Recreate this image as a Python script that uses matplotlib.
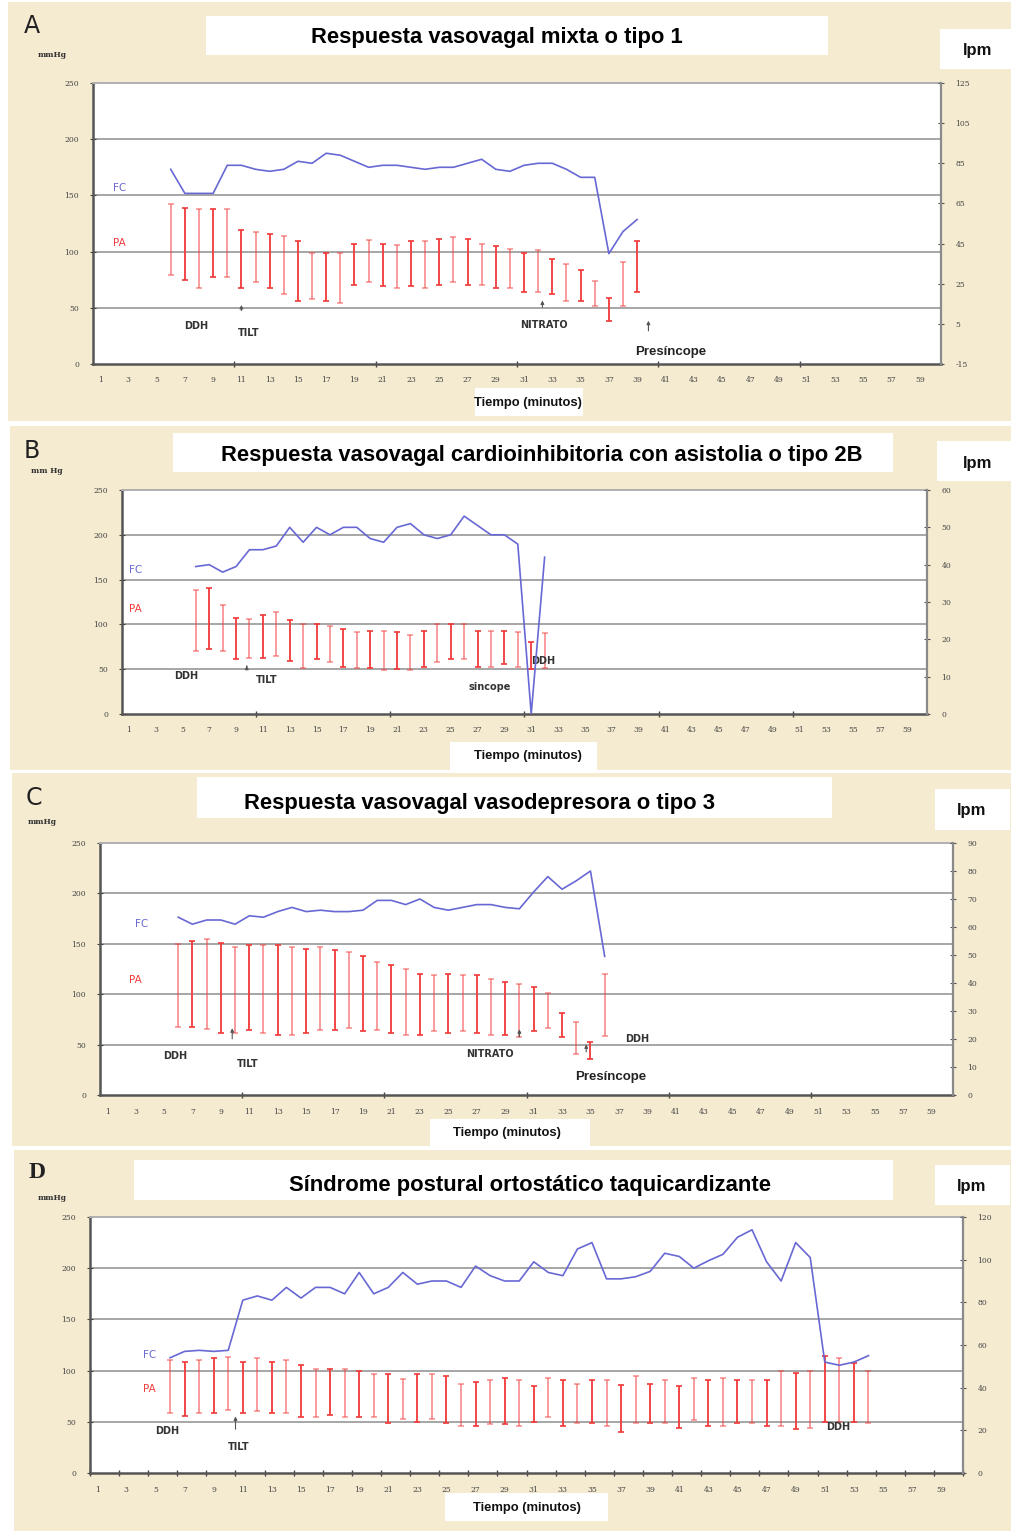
"""
Four tilt-test response panels (FC line + PA systolic/diastolic bars).
"""
import matplotlib
matplotlib.use("Agg")
import matplotlib.pyplot as plt
from matplotlib import font_manager
from matplotlib.patches import Rectangle

W, H = 1012, 1531

installed = {f.name for f in font_manager.fontManager.ttflist}
NARROW = "Liberation Sans Narrow" if "Liberation Sans Narrow" in installed else "Liberation Sans"

x_labels = list(range(1, 60, 2))
left_ticks = [0, 50, 100, 150, 200, 250]

# ---- Panel A: mixed vasovagal response ----
a_min = list(range(6, 40))
a_fc = [82, 70, 70, 70, 84, 84, 82, 81, 82, 86, 85, 90, 89, 86, 83, 84, 84, 83, 82, 83,
        83, 85, 87, 82, 81, 84, 85, 85, 82, 78, 78, 40, 51, 57]
a_sys = [142, 139, 138, 138, 138, 119, 117, 116, 114, 109, 99, 99, 99, 107, 110, 107, 106,
         109, 109, 111, 113, 111, 107, 105, 102, 99, 101, 93, 89, 84, 74, 59, 91, 109]
a_dia = [79, 75, 68, 77, 77, 68, 73, 68, 62, 56, 58, 56, 54, 70, 73, 69, 68, 69, 68, 70,
         73, 70, 70, 68, 68, 64, 64, 62, 56, 56, 52, 38, 52, 64]
a_rticks = [-15, 5, 25, 45, 65, 85, 105, 125]

# ---- Panel B: cardioinhibitory with asystole ----
b_min = list(range(6, 33))
b_fc = [39.5, 40, 38, 39.5, 44, 44, 45, 50, 46, 50, 48, 50, 50, 47, 46, 50, 51, 48, 47, 48,
        53, 50.5, 48, 48, 45.5, 0, 42]
b_sys = [138, 141, 122, 107, 106, 111, 114, 105, 100, 100, 98, 95, 91, 93, 93, 91, 88, 93,
         100, 100, 100, 93, 93, 93, 91, 80, 90]
b_dia = [70, 73, 70, 61, 63, 63, 65, 59, 51, 61, 58, 53, 51, 51, 49, 50, 49, 53, 58, 61, 61,
         53, 53, 56, 53, 50, 51]
b_rticks = [0, 10, 20, 30, 40, 50, 60]

# ---- Panel C: vasodepressor ----
c_min = list(range(6, 37))
c_fc = [63.5, 61, 62.5, 62.5, 61, 64, 63.5, 65.5, 67, 65.5, 66, 65.5, 65.5, 66, 69.5, 69.5,
        68, 70, 67, 66, 67, 68, 68, 67, 66.5, 72.5, 78, 73.5, 76.5, 80, 49.5]
c_sys = [150, 153, 155, 151, 147, 149, 149, 149, 147, 145, 147, 144, 142, 138, 132, 129, 125,
         120, 119, 120, 119, 119, 115, 112, 110, 107, 101, 81, 72, 53, 120]
c_dia = [67, 67, 65, 62, 62, 64, 62, 60, 60, 62, 64, 64, 66, 63, 64, 62, 60, 60, 63, 62, 63,
         62, 60, 60, 58, 63, 66, 58, 41, 36, 59]
c_rticks = [0, 10, 20, 30, 40, 50, 60, 70, 80, 90]

# ---- Panel D: POTS ----
d_min = list(range(6, 55))
d_fc = [54, 57, 57.5, 57, 57.5, 81, 83, 81, 87, 82, 87, 87, 84, 94, 84, 87, 94, 88.5, 90, 90,
        87, 97, 92.5, 90, 90, 99, 94, 92.5, 105, 108, 91, 91, 92, 94.5, 103, 101.5, 96, 99.5,
        102.5, 110.5, 114, 99, 90, 108, 101, 52, 50.5, 52, 55]
d_sys = [110, 108, 110, 112, 113, 108, 112, 108, 110, 105, 102, 102, 102, 100, 97, 97, 92, 97,
         97, 95, 87, 89, 91, 93, 91, 85, 93, 91, 87, 91, 91, 86, 95, 87, 91, 85, 93, 91, 93,
         91, 91, 91, 100, 98, 100, 114, 112, 107, 100]
d_dia = [59, 56, 59, 59, 62, 59, 61, 59, 59, 55, 55, 57, 55, 55, 55, 49, 53, 50, 53, 49, 46,
         46, 48, 48, 46, 50, 55, 46, 49, 49, 46, 40, 49, 49, 49, 44, 52, 46, 46, 49, 49, 46,
         46, 43, 44, 50, 50, 50, 49]
d_rticks = [0, 20, 40, 60, 80, 100, 120]

BEIGE = "#f5ebd1"
FC_COLOR = "#6868d4"
PA_COLOR = "#f03c3c"
TICK_FONT = dict(family="DejaVu Serif", size=5.5, color="#444444")


def fx(px):
    return px / W


def fy(py):
    return 1 - py / H


def rect(fig, x0, y0, x1, y1, color, z=0):
    fig.add_artist(Rectangle((fx(x0), fy(y1)), (x1 - x0) / W, (y1 - y0) / H,
                             transform=fig.transFigure, facecolor=color,
                             edgecolor="none", zorder=z))


def ftext(fig, x, y, s, **kw):
    kw.setdefault("ha", "center")
    kw.setdefault("va", "center")
    fig.text(fx(x), fy(y), s, **kw)


def panel(fig, box, rlim, rticks, minutes, fc, sys_, dia, minor, notes, arrows):
    x0, y0, x1, y1 = box
    ax = fig.add_axes([fx(x0), fy(y1), (x1 - x0) / W, (y1 - y0) / H])
    ax.set_facecolor("white")
    ax.set_xlim(0.5, 60.5)
    ax.set_ylim(0, 250)
    for g in [50, 100, 150, 200]:
        ax.axhline(g, color="#8e8e8e", lw=1.1, zorder=1)

    # PA bars: systolic to diastolic, alternating tone like the original
    for i, (m, s, d) in enumerate(zip(minutes, sys_, dia)):
        a = 0.95 if i % 2 else 0.5
        ax.vlines(m, d, s, color=PA_COLOR, lw=1.4, alpha=a, zorder=3)
        ax.plot([m, m], [s, d], ls="none", marker="_", ms=4, mew=1.3,
                color=PA_COLOR, alpha=a, zorder=3)

    ax.set_xticks(x_labels)
    ax.set_xticklabels([str(v) for v in x_labels], fontdict=TICK_FONT)
    ax.set_xticks(minor, minor=True)
    ax.tick_params(axis="x", which="major", length=0, pad=9)
    ax.tick_params(axis="x", which="minor", length=5, direction="inout",
                   color="#444444", width=1)
    ax.set_yticks(left_ticks)
    ax.set_yticklabels([str(v) for v in left_ticks], fontdict=TICK_FONT)
    ax.tick_params(axis="y", length=4, direction="inout", color="#444444", pad=8)
    ax.spines["left"].set_color("#555555")
    ax.spines["left"].set_linewidth(1.8)
    ax.spines["bottom"].set_color("#555555")
    ax.spines["bottom"].set_linewidth(1.8)
    ax.spines["top"].set_color("#b0b0b0")
    ax.spines["top"].set_linewidth(1.4)
    ax.spines["right"].set_visible(False)

    ax2 = ax.twinx()
    ax2.set_ylim(*rlim)
    ax2.plot(minutes, fc, color=FC_COLOR, lw=1.2, zorder=4)
    ax2.set_yticks(rticks)
    ax2.set_yticklabels([str(v) for v in rticks], fontdict=TICK_FONT)
    ax2.tick_params(axis="y", length=5, direction="inout", color="#555555", pad=8)
    for side in ["left", "top", "bottom"]:
        ax2.spines[side].set_visible(False)
    ax2.spines["right"].set_color("#8a8a8a")
    ax2.spines["right"].set_linewidth(1.6)

    for s, m, v, kind in notes:
        if kind == "fc":
            ax.text(m, v, s, color=FC_COLOR, fontsize=7.5, ha="center", va="center",
                    family="DejaVu Sans", zorder=5)
        elif kind == "pa":
            ax.text(m, v, s, color=PA_COLOR, fontsize=7.5, ha="center", va="center",
                    family="DejaVu Sans", zorder=5)
        elif kind == "big":
            ax.text(m, v, s, color="#222222", fontsize=9.5, ha="center", va="center",
                    family=NARROW, weight="bold", zorder=5)
        else:
            ax.text(m, v, s, color="#333333", fontsize=7, ha="center", va="center",
                    family="DejaVu Sans", weight="bold", zorder=5)
    for m, ya, yb in arrows:
        ax.annotate("", xy=(m, yb), xytext=(m, ya),
                    arrowprops=dict(arrowstyle="-|>", color="#555555", lw=0.8,
                                    mutation_scale=5), zorder=5)
    return ax


def decorations(fig, bg, letter, letter_pos, letter_font, mm, mm_pos, title, tbox,
                tpos, lbox, lpos, xbox, xpos):
    rect(fig, *bg, BEIGE, z=0)
    rect(fig, *tbox, "white", z=1)
    rect(fig, *lbox, "white", z=1)
    rect(fig, *xbox, "white", z=1)
    ftext(fig, *letter_pos, letter, fontsize=17, color="#222222", zorder=2, **letter_font)
    ftext(fig, *mm_pos, mm, fontsize=5.5, family="DejaVu Serif", weight="bold",
          color="#333333", zorder=2)
    ftext(fig, *tpos, title, fontsize=15.8, family=NARROW, weight="bold", color="black",
          zorder=2)
    ftext(fig, *lpos, "lpm", fontsize=12, family=NARROW, weight="bold", color="#111111",
          zorder=2)
    ftext(fig, *xpos, "Tiempo (minutos)", fontsize=9.4, family=NARROW, weight="bold",
          color="#111111", zorder=2)


fig = plt.figure(figsize=(W / 100, H / 100), dpi=100)
fig.patch.set_facecolor("white")

ticks10 = [10.5, 20.5, 30.5, 40.5, 50.5]
ticks2 = [0.5 + 2 * k for k in range(31)]

# A
decorations(fig, (8, 2, 1012, 421), "A", (32, 26), dict(family="DejaVu Sans"),
            "mmHg", (52, 55), "Respuesta vasovagal mixta o tipo 1",
            (206, 16, 828, 55), (497, 37), (940, 29, 1012, 69), (978, 51),
            (475, 388, 583, 416), (528, 403))
panel(fig, (93, 83, 941, 364), (-15, 125), a_rticks, a_min, a_fc, a_sys, a_dia, ticks10,
      [("FC", 2.4, 157, "fc"), ("PA", 2.4, 108, "pa"), ("DDH", 7.8, 34, "ev"),
       ("TILT", 11.5, 28, "ev"), ("NITRATO", 32.4, 35, "ev"),
       ("Presíncope", 41.4, 11, "big")],
      [(11.0, 45, 55), (32.3, 48, 59), (39.8, 27, 41)])

# B
decorations(fig, (10, 426, 1012, 770), "B", (32, 451), dict(family="DejaVu Sans"),
            "mm Hg", (47, 471),
            "Respuesta vasovagal cardioinhibitoria con asistolia o tipo 2B",
            (173, 433, 893, 472), (542, 456), (937, 441, 1012, 481), (978, 463),
            (450, 742, 597, 770), (528, 756))
panel(fig, (122, 490, 927, 714), (0, 60), b_rticks, b_min, b_fc, b_sys, b_dia, ticks10,
      [("FC", 1.5, 161, "fc"), ("PA", 1.5, 117, "pa"), ("DDH", 5.3, 42, "ev"),
       ("TILT", 11.3, 38, "ev"), ("sincope", 27.9, 30, "ev"), ("DDH", 31.9, 59, "ev")],
      [(9.8, 50, 57)])

# C
decorations(fig, (12, 773, 1012, 1146), "C", (34, 798), dict(family="DejaVu Sans"),
            "mmHg", (42, 822), "Respuesta vasovagal vasodepresora o tipo 3",
            (197, 777, 832, 818), (480, 804), (935, 789, 1010, 830), (972, 811),
            (430, 1119, 590, 1146), (507, 1133))
panel(fig, (100, 843, 953, 1095), (0, 90), c_rticks, c_min, c_fc, c_sys, c_dia, ticks10,
      [("FC", 3.4, 170, "fc"), ("PA", 3.0, 114, "pa"), ("DDH", 5.8, 39, "ev"),
       ("TILT", 10.9, 31, "ev"), ("NITRATO", 27.9, 41, "ev"), ("DDH", 38.3, 56, "ev"),
       ("Presíncope", 36.4, 18, "big")],
      [(9.8, 53, 69), (30.0, 55, 68), (34.7, 40, 53)])

# D
decorations(fig, (14, 1150, 1012, 1531), "D", (37, 1173),
            dict(family="Liberation Serif", weight="bold"),
            "mmHg", (52, 1198), "Síndrome postural ortostático taquicardizante",
            (134, 1160, 893, 1200), (530, 1185), (935, 1165, 1010, 1205), (972, 1187),
            (445, 1493, 608, 1521), (527, 1508))
panel(fig, (90, 1217, 963, 1473), (0, 120), d_rticks, d_min, d_fc, d_sys, d_dia, ticks2,
      [("FC", 4.6, 115, "fc"), ("PA", 4.6, 82, "pa"), ("DDH", 5.8, 41, "ev"),
       ("TILT", 10.7, 25, "ev"), ("DDH", 51.9, 45, "ev")],
      [(10.5, 40, 58)])

fig.savefig("out.png", dpi=100, facecolor=fig.get_facecolor())
